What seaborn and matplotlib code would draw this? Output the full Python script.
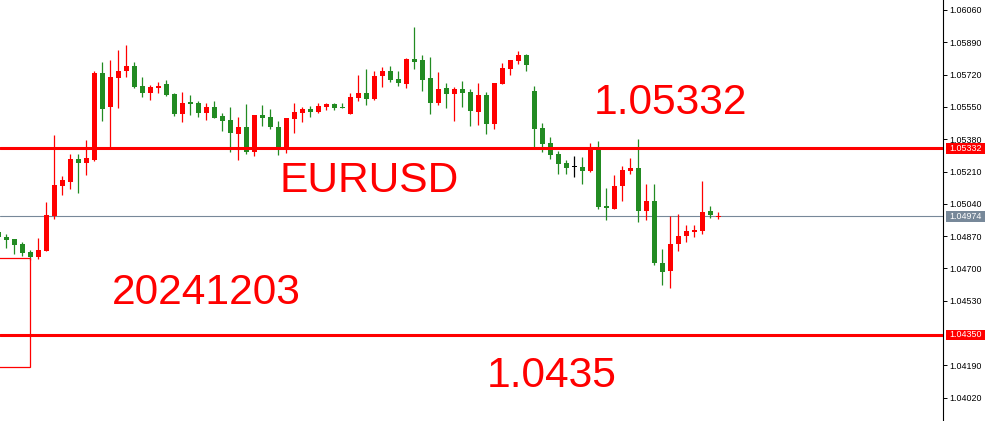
import numpy as np
import matplotlib
matplotlib.use("Agg")
import matplotlib.pyplot as plt
import matplotlib.transforms as mtransforms
from matplotlib.patches import Rectangle
import seaborn as sns

sns.set_theme(style="white")
plt.rcParams['font.family'] = ['Liberation Sans', 'DejaVu Sans']

# EURUSD bars, first one is cut by the left edge
bar_index = np.arange(-1, 90)
opens = [1.04892, 1.04867, 1.04855, 1.04829, 1.04787, 1.04762, 1.04793, 1.04976, 1.05135, 1.05155,
         1.05276, 1.05256, 1.05271, 1.05728, 1.05550, 1.05702, 1.05739, 1.05765, 1.05660, 1.05623,
         1.05650, 1.05671, 1.05618, 1.05513, 1.05576, 1.05571, 1.05518, 1.05550, 1.05502, 1.05481,
         1.05408, 1.05444, 1.05313, 1.05508, 1.05497, 1.05444, 1.05334, 1.05486, 1.05518, 1.05539,
         1.05523, 1.05550, 1.05565, 1.05548, 1.05513, 1.05597, 1.05623, 1.05592, 1.05713, 1.05739,
         1.05697, 1.05671, 1.05802, 1.05797, 1.05702, 1.05571, 1.05650, 1.05618, 1.05644, 1.05629,
         1.05523, 1.05613, 1.05460, 1.05671, 1.05750, 1.05792, 1.05823, 1.05634, 1.05439, 1.05360,
         1.05302, 1.05255, 1.05234, 1.05234, 1.05213, 1.05334, 1.05029, 1.05013, 1.05134, 1.05213,
         1.05229, 1.05002, 1.05055, 1.04729, 1.04687, 1.04829, 1.04871, 1.04892, 1.04897, 1.05002,
         1.04970]
highs = [1.04902, 1.04881, 1.04855, 1.04839, 1.04797, 1.04860, 1.05050, 1.05402, 1.05186, 1.05302,
         1.05302, 1.05376, 1.05739, 1.05786, 1.05797, 1.05850, 1.05876, 1.05786, 1.05707, 1.05665,
         1.05681, 1.05692, 1.05623, 1.05629, 1.05613, 1.05581, 1.05571, 1.05581, 1.05518, 1.05550,
         1.05497, 1.05565, 1.05508, 1.05560, 1.05539, 1.05476, 1.05492, 1.05571, 1.05550, 1.05555,
         1.05571, 1.05571, 1.05571, 1.05571, 1.05623, 1.05718, 1.05750, 1.05739, 1.05760, 1.05765,
         1.05739, 1.05807, 1.05971, 1.05823, 1.05813, 1.05734, 1.05676, 1.05655, 1.05686, 1.05644,
         1.05676, 1.05629, 1.05676, 1.05781, 1.05797, 1.05844, 1.05829, 1.05660, 1.05465, 1.05392,
         1.05318, 1.05271, 1.05292, 1.05286, 1.05360, 1.05371, 1.05123, 1.05192, 1.05239, 1.05281,
         1.05381, 1.05144, 1.05144, 1.04802, 1.04976, 1.04986, 1.04929, 1.04929, 1.05160, 1.05029,
         1.04997]
lows = [1.04855, 1.04809, 1.04775, 1.04767, 1.04745, 1.04748, 1.04793, 1.04959, 1.05088, 1.05118,
        1.05099, 1.05192, 1.05265, 1.05476, 1.05334, 1.05544, 1.05707, 1.05650, 1.05602, 1.05586,
        1.05623, 1.05607, 1.05502, 1.05471, 1.05508, 1.05497, 1.05481, 1.05492, 1.05423, 1.05313,
        1.05271, 1.05302, 1.05292, 1.05450, 1.05434, 1.05297, 1.05308, 1.05413, 1.05471, 1.05497,
        1.05518, 1.05534, 1.05534, 1.05544, 1.05513, 1.05581, 1.05560, 1.05586, 1.05655, 1.05681,
        1.05660, 1.05650, 1.05750, 1.05634, 1.05513, 1.05560, 1.05544, 1.05476, 1.05550, 1.05450,
        1.05455, 1.05408, 1.05434, 1.05671, 1.05718, 1.05776, 1.05739, 1.05339, 1.05313, 1.05276,
        1.05197, 1.05197, 1.05181, 1.05144, 1.05208, 1.05013, 1.04955, 1.05013, 1.05055, 1.05197,
        1.04944, 1.04955, 1.04718, 1.04613, 1.04597, 1.04792, 1.04839, 1.04866, 1.04881, 1.04966,
        1.04960]
closes = [1.04866, 1.04850, 1.04823, 1.04783, 1.04762, 1.04797, 1.04981, 1.05139, 1.05165, 1.05276,
          1.05256, 1.05283, 1.05728, 1.05539, 1.05707, 1.05739, 1.05765, 1.05655, 1.05623, 1.05655,
          1.05660, 1.05613, 1.05513, 1.05571, 1.05565, 1.05518, 1.05550, 1.05492, 1.05476, 1.05413,
          1.05444, 1.05313, 1.05508, 1.05492, 1.05444, 1.05334, 1.05492, 1.05523, 1.05539, 1.05523,
          1.05555, 1.05565, 1.05544, 1.05544, 1.05602, 1.05623, 1.05592, 1.05713, 1.05739, 1.05692,
          1.05676, 1.05802, 1.05786, 1.05692, 1.05571, 1.05644, 1.05618, 1.05644, 1.05623, 1.05528,
          1.05613, 1.05460, 1.05676, 1.05755, 1.05797, 1.05823, 1.05771, 1.05434, 1.05355, 1.05297,
          1.05250, 1.05229, 1.05234, 1.05213, 1.05334, 1.05023, 1.05018, 1.05134, 1.05218, 1.05229,
          1.05002, 1.05055, 1.04729, 1.04681, 1.04829, 1.04871, 1.04897, 1.04902, 1.04997, 1.04981,
          1.04974]

level_prices = [1.05332, 1.04350]
bid_price = 1.04974
box_prices = [1.04181, 1.04753]
box_bars = [-5, 3]
tick_values = [1.06060, 1.05890, 1.05720, 1.05550, 1.05380, 1.05210, 1.05040,
               1.04870, 1.04700, 1.04530, 1.04190, 1.04020]

UP = "#FF0000"
DOWN = "#228B22"
GRAY = "#778899"

o = np.array(opens)
c = np.array(closes)
colors = np.where(c > o, UP, np.where(c < o, DOWN, "black"))
px = 0.0000526  # price of one pixel

fig = plt.figure(figsize=(9.95, 4.21), dpi=100)
ax = fig.add_axes([0, 0, 943.3 / 995, 1])
ax.set_xlim(-0.7875, 117.1)
ax.set_ylim(1.038973, 1.061126)

# bid line under the candles
ax.axhline(bid_price, color=GRAY, lw=0.8, zorder=1)

ax.vlines(bar_index, lows, highs, colors=colors, lw=0.9, zorder=2)
body_low = np.minimum(o, c)
body_h = np.maximum(np.abs(c - o), px)
ax.bar(bar_index, body_h, bottom=body_low, width=0.625, color=colors, linewidth=0, zorder=3)

for p in level_prices:
    ax.axhline(p, color=UP, lw=2.2, zorder=4)

ax.add_patch(Rectangle((box_bars[0], box_prices[0]), box_bars[1] - box_bars[0],
                       box_prices[1] - box_prices[0], fill=False, edgecolor=UP, lw=0.9, zorder=4))

big = dict(color=UP, fontsize=30.6, ha="left", va="baseline", zorder=6)
ax.text(34.1, 1.05101, "EURUSD", **big)
ax.text(73.4, 1.05513, "1.05332", **big)
ax.text(13.2, 1.04513, "20241203", **big)
ax.text(60.1, 1.04076, "1.0435", **big)

# right price scale
for s in ["top", "left", "bottom"]:
    ax.spines[s].set_visible(False)
ax.spines["right"].set_color("black")
ax.spines["right"].set_linewidth(0.8)
ax.set_xticks([])
ax.yaxis.tick_right()
ax.set_yticks(tick_values)
ax.set_yticklabels([f"{v:.5f}" for v in tick_values])
ax.tick_params(axis="y", direction="out", length=2.7, width=0.7, pad=1.5,
               labelsize=6.4, colors="black", right=True)

trans = mtransforms.blended_transform_factory(ax.transAxes, ax.transData)
half = 5.25 * px
for p, col in [(level_prices[0], UP), (bid_price, GRAY), (level_prices[1], UP)]:
    ax.add_patch(Rectangle((946 / 943.3, p - half), 39 / 943.3, 2 * half, transform=trans,
                           facecolor=col, edgecolor="none", clip_on=False, zorder=7))
    ax.text(965.5 / 943.3, p, f"{p:.5f}", transform=trans, ha="center", va="center",
            color="white", fontsize=6.4, clip_on=False, zorder=8)

fig.savefig("out.png", dpi=100)
